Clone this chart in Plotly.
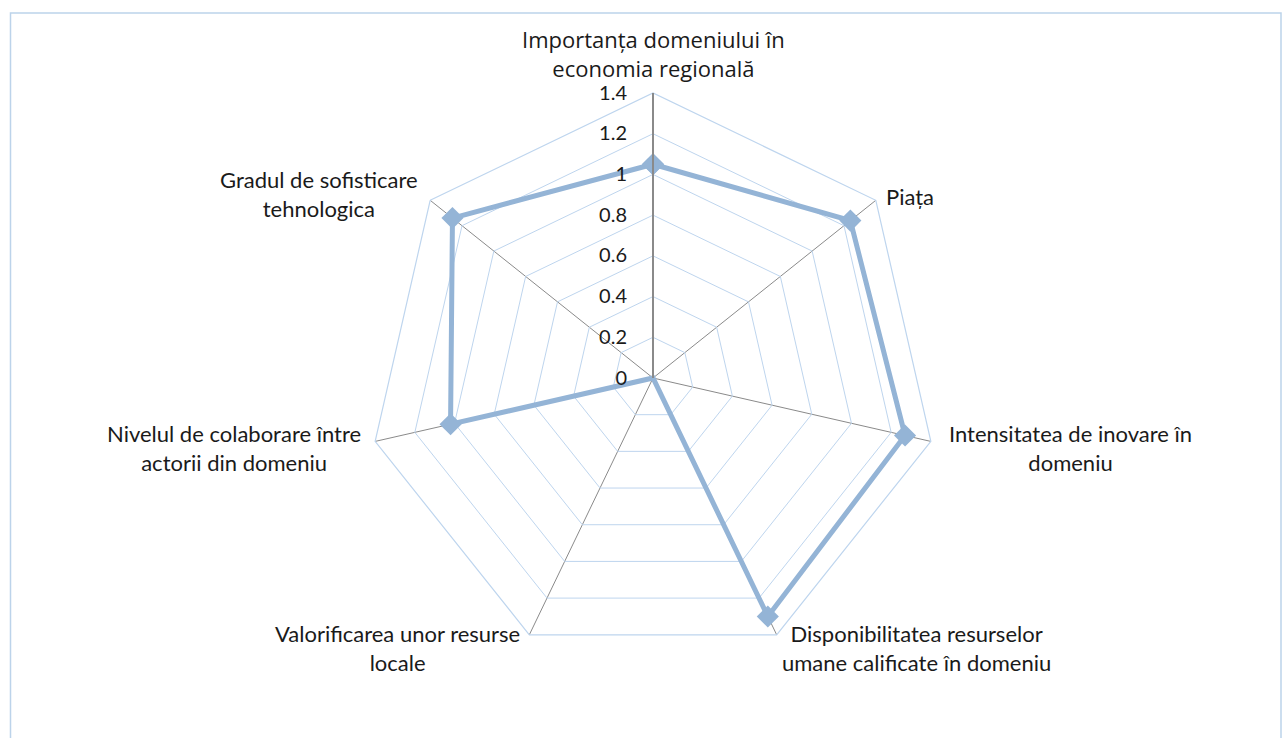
import plotly.graph_objects as go

categories = [
    "Importanța domeniului în<br>economia regională",
    "Piața",
    "Intensitatea de inovare în<br>domeniu",
    "Disponibilitatea resurselor<br>umane calificate în domeniu",
    "Valorificarea unor resurse<br>locale",
    "Nivelul de colaborare între<br>actorii din domeniu",
    "Gradul de sofisticare<br>tehnologica",
]
values = [1.05, 1.24, 1.27, 1.30, 0.0, 1.02, 1.26]
radial_ticks = [0, 0.2, 0.4, 0.6, 0.8, 1, 1.2, 1.4]

W, H = 1284, 738
CX, CY, HALF = 653, 378, 285

# label placement (pixel centres) for each category, in category order
label_pos = [(653, 54), (910, 196), (1070, 448), (916, 648), (397, 648), (234, 448), (319, 194)]

fig = go.Figure()
fig.add_trace(go.Scatterpolar(
    r=values + values[:1],
    theta=categories + categories[:1],
    mode="lines+markers",
    line=dict(color="#94b4d6", width=5),
    marker=dict(symbol="diamond", size=17, color="#94b4d6"),
    showlegend=False,
    hoverinfo="skip",
))

annotations = []
for i, (txt, (px, py)) in enumerate(zip(categories, label_pos)):
    fam = "Open Sans" if i == 0 else "Lato"
    annotations.append(dict(
        text=txt, x=px / W, y=1 - py / H, xref="paper", yref="paper",
        xanchor="center", yanchor="middle", showarrow=False, align="center",
        font=dict(family=fam, size=22, color="#1a1a1a"),
    ))

fig.update_layout(
    width=W, height=H,
    margin=dict(l=0, r=0, t=0, b=0),
    paper_bgcolor="white",
    plot_bgcolor="white",
    annotations=annotations,
    shapes=[dict(type="rect", xref="paper", yref="paper",
                 x0=10.5 / W, x1=1281 / W, y0=-0.05, y1=1 - 13 / H,
                 line=dict(color="#bcd3ea", width=1.5))],
    polar=dict(
        domain=dict(x=[(CX - HALF) / W, (CX + HALF) / W],
                    y=[(H - CY - HALF) / H, (H - CY + HALF) / H]),
        bgcolor="white",
        gridshape="linear",
        radialaxis=dict(
            range=[0, 1.4], tickvals=radial_ticks, ticktext=[str(t) for t in radial_ticks],
            angle=90, side="counterclockwise", tickangle=90,
            showline=True, linecolor="#8a8a8a", linewidth=2,
            gridcolor="#bed5ee", gridwidth=1.2,
            ticks="outside", ticklen=18, tickcolor="rgba(0,0,0,0)",
            tickfont=dict(family="Lato", size=20, color="#1a1a1a"),
        ),
        angularaxis=dict(
            direction="clockwise", rotation=90,
            showticklabels=False, ticks="",
            showline=True, linecolor="#bed5ee", linewidth=1.2,
            gridcolor="#8a8a8a", gridwidth=1,
        ),
    ),
)

fig.write_html("out.html", config={"displayModeBar": False},
               post_script="document.body.style.margin='0';")
